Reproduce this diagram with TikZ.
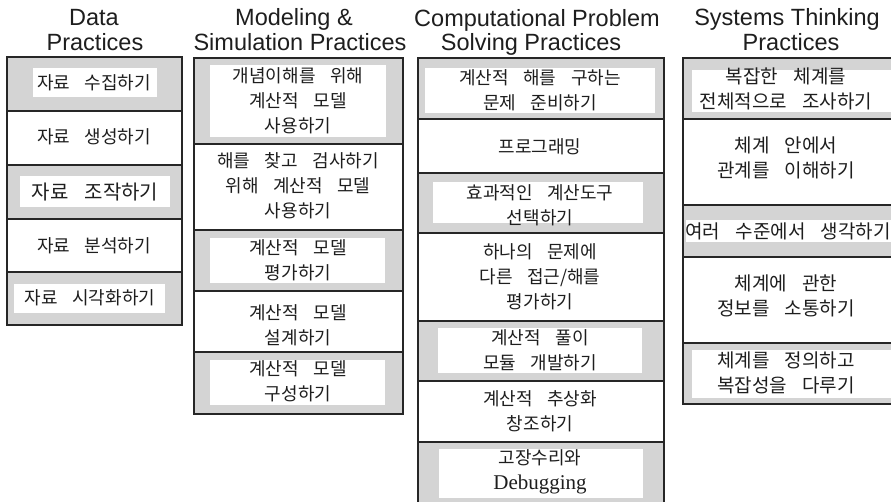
\documentclass[tikz,border=0pt]{standalone}
\usepackage{fontspec}
\setmainfont{Liberation Sans}
\newfontfamily\krfont[WordSpace=3.6]{Noto Sans CJK KR}
\newfontfamily\serifen{Liberation Serif}
\definecolor{cellgray}{HTML}{D4D4D4}
\definecolor{linec}{HTML}{262626}
\definecolor{txt}{HTML}{1E1E1E}
\begin{document}
\begin{tikzpicture}[x=1pt,y=-1pt,
  frame/.style={draw=linec, line width=2pt},
  grayrow/.style={fill=cellgray},
  whitepad/.style={fill=white},
  kr/.style={font=\krfont\fontsize{18}{25}\selectfont, text=txt, align=center, inner sep=0pt},
  krl/.style={font=\krfont\fontsize{19}{25}\selectfont, text=txt, align=center, inner sep=0pt},
  krbig/.style={font=\krfont\fontsize{20}{25}\selectfont, text=txt, align=center, inner sep=0pt},
  hdr/.style={font=\fontsize{23.5}{24}\selectfont, anchor=base, inner sep=0pt, text=txt}]
\useasboundingbox (0,0) rectangle (891,502);
\clip (0,0) rectangle (891,502);
\fill[white] (0,0) rectangle (891,502);
% ---------- headers
\node[hdr] (h1a) at (94,26) {Data};
\node[hdr] (h1b) at (95,51) {Practices};
\node[hdr] (h2a) at (294,26) {Modeling \&};
\node[hdr] (h2b) at (300,51) {Simulation Practices};
\node[hdr] (h3a) at (537,27) {Computational Problem};
\node[hdr] (h3b) at (531,51) {Solving Practices};
\node[hdr] (h4a) at (787,26) {Systems Thinking};
\node[hdr] (h4b) at (791,51) {Practices};
% ---------- column 1
\path[grayrow] (7,57) rectangle (182,111);
\path[grayrow] (7,165) rectangle (182,219);
\path[grayrow] (7,272) rectangle (182,325);
\path[whitepad] (33,68) rectangle (157,97);
\path[whitepad] (20,176) rectangle (170,207);
\path[whitepad] (14,284) rectangle (165,313);
\foreach \yy in {111,165,219,272} \draw[frame] (7,\yy) -- (182,\yy);
\draw[frame] (7,57) rectangle (182,325);
% ---------- column 2
\path[grayrow] (194,58) rectangle (403,144);
\path[grayrow] (194,230) rectangle (403,291);
\path[grayrow] (194,352) rectangle (403,414);
\path[whitepad] (210,65) rectangle (386,137);
\path[whitepad] (210,238) rectangle (385,283);
\path[whitepad] (210,360) rectangle (385,405);
\foreach \yy in {144,230,291,352} \draw[frame] (194,\yy) -- (403,\yy);
\draw[frame] (194,58) rectangle (403,414);
% ---------- column 3
\path[grayrow] (418,58) rectangle (664,119);
\path[grayrow] (418,173) rectangle (664,233);
\path[grayrow] (418,321) rectangle (664,381);
\path[grayrow] (418,442) rectangle (664,512);
\path[whitepad] (425,68) rectangle (655,113);
\path[whitepad] (433,182) rectangle (643,223);
\path[whitepad] (438,328) rectangle (642,373);
\path[whitepad] (439,449) rectangle (643,498);
\foreach \yy in {119,173,233,321,381,442} \draw[frame] (418,\yy) -- (664,\yy);
\draw[frame] (418,58) rectangle (664,512);
% ---------- column 4
\path[grayrow] (683,58) rectangle (905,119);
\path[grayrow] (683,205) rectangle (905,257);
\path[grayrow] (683,343) rectangle (905,404);
\path[whitepad] (692,70) rectangle (905,112);
\path[whitepad] (686,220) rectangle (905,242);
\path[whitepad] (692,350) rectangle (905,398);
\foreach \yy in {119,205,257,343} \draw[frame] (683,\yy) -- (905,\yy);
\draw[frame] (683,58) rectangle (905,404);
% ---------- texts column 1
\node[kr] (a1) at (94,83) {자료 수집하기};
\node[kr] (a2) at (94,137) {자료 생성하기};
\node[krbig] (a3) at (95,192) {자료 조작하기};
\node[kr] (a4) at (94,246) {자료 분석하기};
\node[kr] (a5) at (90,298) {자료 시각화하기};
% ---------- texts column 2
\node[kr] (b1) at (298,101) {개념이해를 위해\\계산적 모델\\사용하기};
\node[kr] (b2) at (298,186) {해를 찾고 검사하기\\위해 계산적 모델\\사용하기};
\node[kr] (b3) at (298,260) {계산적 모델\\평가하기};
\node[kr] (b4) at (298,325) {계산적 모델\\설계하기};
\node[kr] (b5) at (298,381) {계산적 모델\\구성하기};
% ---------- texts column 3
\node[kr] (c1) at (540,90) {계산적 해를 구하는\\문제 준비하기};
\node[kr] (c2) at (540,147) {프로그래밍};
\node[kr] (c3) at (540,205) {효과적인 계산도구\\선택하기};
\node[kr] (c4) at (540,277) {하나의 문제에\\다른 접근/해를\\평가하기};
\node[kr] (c5) at (540,350) {계산적 풀이\\모듈 개발하기};
\node[kr] (c6) at (540,411) {계산적 추상화\\창조하기};
\node[kr] (c7) at (540,472) {고장수리와\\{\serifen\fontsize{21}{25}\selectfont Debugging}};
% ---------- texts column 4
\node[krl] (d1) at (786,89) {복잡한 체계를\\전체적으로 조사하기};
\node[krl] (d2) at (786,158) {체계 안에서\\관계를 이해하기};
\node[krl] (d3) at (788,231) {여러 수준에서 생각하기};
\node[krl] (d4) at (786,296) {체계에 관한\\정보를 소통하기};
\node[krl] (d5) at (786,373) {체계를 정의하고\\복잡성을 다루기};
\end{tikzpicture}
\end{document}
